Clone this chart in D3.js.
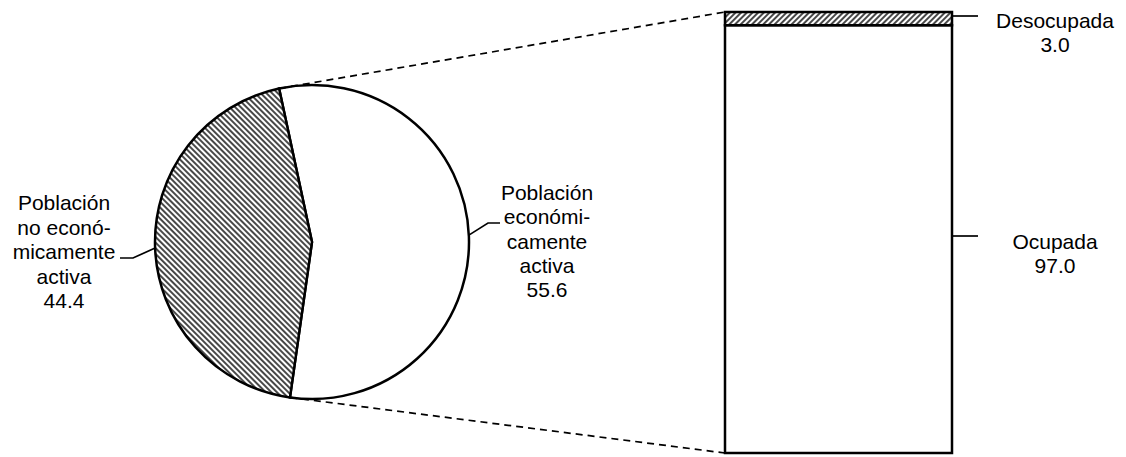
<!DOCTYPE html>
<html>
<head>
<meta charset="utf-8">
<script src="https://cdn.jsdelivr.net/npm/d3@7"></script>
<style>
  body { margin: 0; background: #fff; }
  svg { display: block; }
  text { font-family: Arial, "Liberation Sans", sans-serif; font-size: 21px; fill: #000; }
</style>
</head>
<body>
<script>
// pie: population by economic activity (%)
var pieNames = ["Población económicamente activa", "Población no económicamente activa"];
var pieValues = [55.6, 44.4];
var pieLabels = [["Población", "económi-", "camente", "activa", "55.6"],
                 ["Población", "no econó-", "micamente", "activa", "44.4"]];

// bar: breakdown of the economically active population (%)
var barNames = ["Ocupada", "Desocupada"];
var barValues = [97.0, 3.0];
var barLabels = [["Ocupada", "97.0"], ["Desocupada", "3.0"]];

var width = 1126, height = 457;

var svg = d3.select("body").append("svg")
  .attr("width", width)
  .attr("height", height);

var defs = svg.append("defs");

function hatch(id, angle) {
  var p = defs.append("pattern")
    .attr("id", id)
    .attr("patternUnits", "userSpaceOnUse")
    .attr("width", 4)
    .attr("height", 4)
    .attr("patternTransform", "rotate(" + angle + ")");
  p.append("rect").attr("width", 4).attr("height", 4).attr("fill", "#fff");
  p.append("line")
    .attr("x1", 1).attr("y1", 0).attr("x2", 1).attr("y2", 4)
    .attr("stroke", "#1a1a1a")
    .attr("stroke-width", 1.6);
}
hatch("hatchPie", -45);
hatch("hatchBar", 45);

// ---- pie ----
var cx = 312, cy = 242, r = 157;
var startAngle = -12.1 * Math.PI / 180;

var pie = d3.pie()
  .sort(null)
  .startAngle(startAngle)
  .endAngle(startAngle + 2 * Math.PI);

var arcs = pie(pieValues);
var arc = d3.arc().innerRadius(0).outerRadius(r);

var pieG = svg.append("g")
  .attr("transform", "translate(" + cx + "," + cy + ")");

pieG.selectAll("path")
  .data(arcs)
  .enter()
  .append("path")
  .attr("d", arc)
  .attr("fill", function(d, i) { return i === 0 ? "#fff" : "url(#hatchPie)"; })
  .attr("stroke", "#000")
  .attr("stroke-width", 2.5)
  .attr("stroke-linejoin", "miter");

function onCircle(a) {
  return [cx + r * Math.sin(a), cy - r * Math.cos(a)];
}

// ---- bar ----
var barX = 725, barW = 227;
var y = d3.scaleLinear().domain([0, 100]).range([453, 12]);

var stacked = [];
var acc = 0;
barValues.forEach(function(v, i) {
  stacked.push({ name: barNames[i], y0: acc, y1: acc + v, label: barLabels[i] });
  acc += v;
});

svg.selectAll(".seg")
  .data(stacked)
  .enter()
  .append("rect")
  .attr("class", "seg")
  .attr("x", barX)
  .attr("width", barW)
  .attr("y", function(d) { return y(d.y1); })
  .attr("height", function(d) { return y(d.y0) - y(d.y1); })
  .attr("fill", function(d, i) { return i === 0 ? "#fff" : "url(#hatchBar)"; })
  .attr("stroke", "#000")
  .attr("stroke-width", 2.5);

// ---- dashed connectors from slice edges to bar corners ----
var topPt = onCircle(arcs[0].startAngle);
var botPt = onCircle(arcs[0].endAngle);

svg.append("line")
  .attr("x1", topPt[0]).attr("y1", topPt[1])
  .attr("x2", barX).attr("y2", y(100))
  .attr("stroke", "#000").attr("stroke-width", 1.7)
  .attr("stroke-dasharray", "7,5");

svg.append("line")
  .attr("x1", botPt[0]).attr("y1", botPt[1])
  .attr("x2", barX).attr("y2", y(0))
  .attr("stroke", "#000").attr("stroke-width", 1.7)
  .attr("stroke-dasharray", "7,5");

// ---- pie labels with leaders ----
// economically active (right)
var pA = onCircle(87.5 * Math.PI / 180);
svg.append("polyline")
  .attr("points", [pA, [488, 223], [500, 223]].map(function(p) { return p.join(","); }).join(" "))
  .attr("fill", "none").attr("stroke", "#000").attr("stroke-width", 1.7);

svg.append("text")
  .attr("text-anchor", "middle")
  .selectAll("tspan")
  .data(pieLabels[0])
  .enter()
  .append("tspan")
  .attr("x", 547)
  .attr("y", function(d, i) { return 200 + i * 24.3; })
  .text(function(d) { return d; });

// not economically active (left)
var pB = onCircle(-92.2 * Math.PI / 180);
svg.append("polyline")
  .attr("points", [pB, [133, 258], [120, 258]].map(function(p) { return p.join(","); }).join(" "))
  .attr("fill", "none").attr("stroke", "#000").attr("stroke-width", 1.7);

svg.append("text")
  .attr("text-anchor", "middle")
  .selectAll("tspan")
  .data(pieLabels[1])
  .enter()
  .append("tspan")
  .attr("x", 64)
  .attr("y", function(d, i) { return 210 + i * 24.5; })
  .text(function(d) { return d; });

// ---- bar labels with leaders ----
var barLeaderY = [236, 16];
var barTextY = [249, 28];

stacked.forEach(function(d, i) {
  svg.append("line")
    .attr("x1", barX + barW).attr("y1", barLeaderY[i])
    .attr("x2", 978).attr("y2", barLeaderY[i])
    .attr("stroke", "#000").attr("stroke-width", 1.7);

  svg.append("text")
    .attr("text-anchor", "middle")
    .selectAll("tspan")
    .data(d.label)
    .enter()
    .append("tspan")
    .attr("x", 1055)
    .attr("y", function(t, k) { return barTextY[i] + k * 24; })
    .text(function(t) { return t; });
});
</script>
</body>
</html>
